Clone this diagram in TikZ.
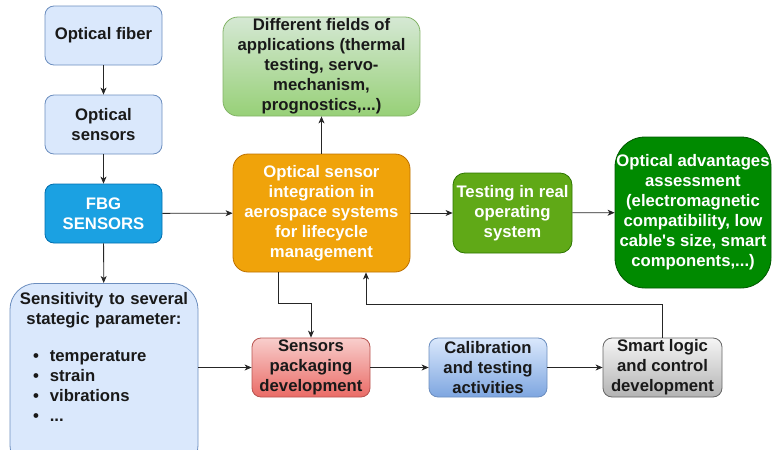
\documentclass[tikz,border=0pt]{standalone}
\usepackage{fontspec}
\setmainfont{Liberation Sans}
\usetikzlibrary{arrows.meta}
\definecolor{bluefill}{HTML}{DAE8FC}
\definecolor{blueline}{HTML}{6C8EBF}
\definecolor{fbgfill}{HTML}{1BA1E2}
\definecolor{fbgline}{HTML}{006EAF}
\definecolor{greentop}{HTML}{D5E8D4}
\definecolor{greenbot}{HTML}{97D077}
\definecolor{greenline}{HTML}{82B366}
\definecolor{orangefill}{HTML}{F0A30A}
\definecolor{orangeline}{HTML}{BD7000}
\definecolor{testfill}{HTML}{60A917}
\definecolor{testline}{HTML}{2D7600}
\definecolor{advfill}{HTML}{008A00}
\definecolor{advline}{HTML}{005700}
\definecolor{redtop}{HTML}{F8CECC}
\definecolor{redbot}{HTML}{EA6B66}
\definecolor{redline}{HTML}{B85450}
\definecolor{calbot}{HTML}{7EA6E0}
\definecolor{graytop}{HTML}{F5F5F5}
\definecolor{graybot}{HTML}{B3B3B3}
\definecolor{grayline}{HTML}{666666}
\begin{document}
\begin{tikzpicture}[x=1pt,y=-1pt,
    font=\fontsize{16.7}{20}\selectfont\bfseries,
    box/.style={rectangle,rounded corners=9pt,align=center,inner sep=0pt,line width=0.8pt,text=black!90},
    lightbox/.style={box,draw=blueline,fill=bluefill,minimum width=117pt,minimum height=59pt},
    fbgbox/.style={box,draw=fbgline,fill=fbgfill,text=white,minimum width=117pt,minimum height=59pt},
    fieldbox/.style={box,rounded corners=15pt,draw=greenline,top color=greentop,bottom color=greenbot,minimum width=197pt,minimum height=99pt},
    integbox/.style={box,rounded corners=15pt,draw=orangeline,fill=orangefill,text=white,minimum width=177pt,minimum height=118pt},
    testbox/.style={box,rounded corners=12pt,draw=testline,fill=testfill,text=white,minimum width=119pt,minimum height=80pt},
    advbox/.style={box,rounded corners=30pt,draw=advline,fill=advfill,text=white,minimum width=156pt,minimum height=151pt},
    stepred/.style={box,draw=redline,top color=redtop,bottom color=redbot,minimum width=118pt,minimum height=59pt},
    stepblue/.style={box,draw=blueline,top color=bluefill,bottom color=calbot,minimum width=118pt,minimum height=59pt},
    stepgray/.style={box,draw=grayline,top color=graytop,bottom color=graybot,minimum width=119pt,minimum height=59pt},
    sensbox/.style={box,rounded corners=26pt,draw=blueline,fill=bluefill,text width=182pt,align=left,inner xsep=3pt,inner ysep=9pt},
    arr/.style={-{Stealth[length=7pt,width=6pt,inset=2pt]},line width=0.8pt,draw=black!85}]
    \useasboundingbox (0,0) rectangle (772,450);
    % left column
    \node (fiber) at (103.5,35.5) [lightbox] {Optical fiber};
    \node (osens) at (103.5,124.5) [lightbox] {Optical\\sensors};
    \node (fbg) at (103.5,213.5) [fbgbox] {FBG\\SENSORS};
    \node (sens) at (104,283) [sensbox,anchor=north] {{\centering Sensitivity to several\\stategic parameter:\par}
        \vspace{17pt}
        \hspace*{20pt}\textbullet\hspace{11pt}temperature\\
        \hspace*{20pt}\textbullet\hspace{11pt}strain\\
        \hspace*{20pt}\textbullet\hspace{11pt}vibrations\\
        \hspace*{20pt}\textbullet\hspace{11pt}...\par
        \rule{0pt}{40pt}};
    % middle and right
    \node (fields) at (321.5,66.5) [fieldbox] {Different fields of\\applications (thermal\\testing, servo-\\mechanism,\\prognostics,...)};
    \node (integ) at (321.5,213) [integbox] {Optical sensor\\integration in\\aerospace systems\\for lifecycle\\management};
    \node (testing) at (512.5,213) [testbox] {Testing in real\\operating\\system};
    \node (adv) at (693,212.5) [advbox] {Optical advantages\\assessment\\(electromagnetic\\compatibility, low\\cable\textquotesingle s size, smart\\components,...)};
    % bottom row
    \node (pack) at (311,367.5) [stepred] {Sensors\\packaging\\development};
    \node (calib) at (488,367.5) [stepblue] {Calibration\\and testing\\activities};
    \node (smart) at (662.5,367.5) [stepgray] {Smart logic\\and control\\development};
    % connectors
    \draw[arr] (fiber) -- (osens);
    \draw[arr] (osens) -- (fbg);
    \draw[arr] (fbg) -- (sens);
    \draw[arr] (fbg) -- (integ);
    \draw[arr] (integ) -- (fields);
    \draw[arr] (integ) -- (testing);
    \draw[arr] (testing) -- (adv);
    \draw[arr] ([xshift=-43.5pt]integ.south) -- ++(0,31) -| (pack);
    \draw[arr] (sens.east |- pack.west) -- (pack.west);
    \draw[arr] (pack) -- (calib);
    \draw[arr] (calib) -- (smart);
    \draw[arr] (smart.north) -- ++(0,-33) -| ([xshift=44.5pt]integ.south);
\end{tikzpicture}
\end{document}
